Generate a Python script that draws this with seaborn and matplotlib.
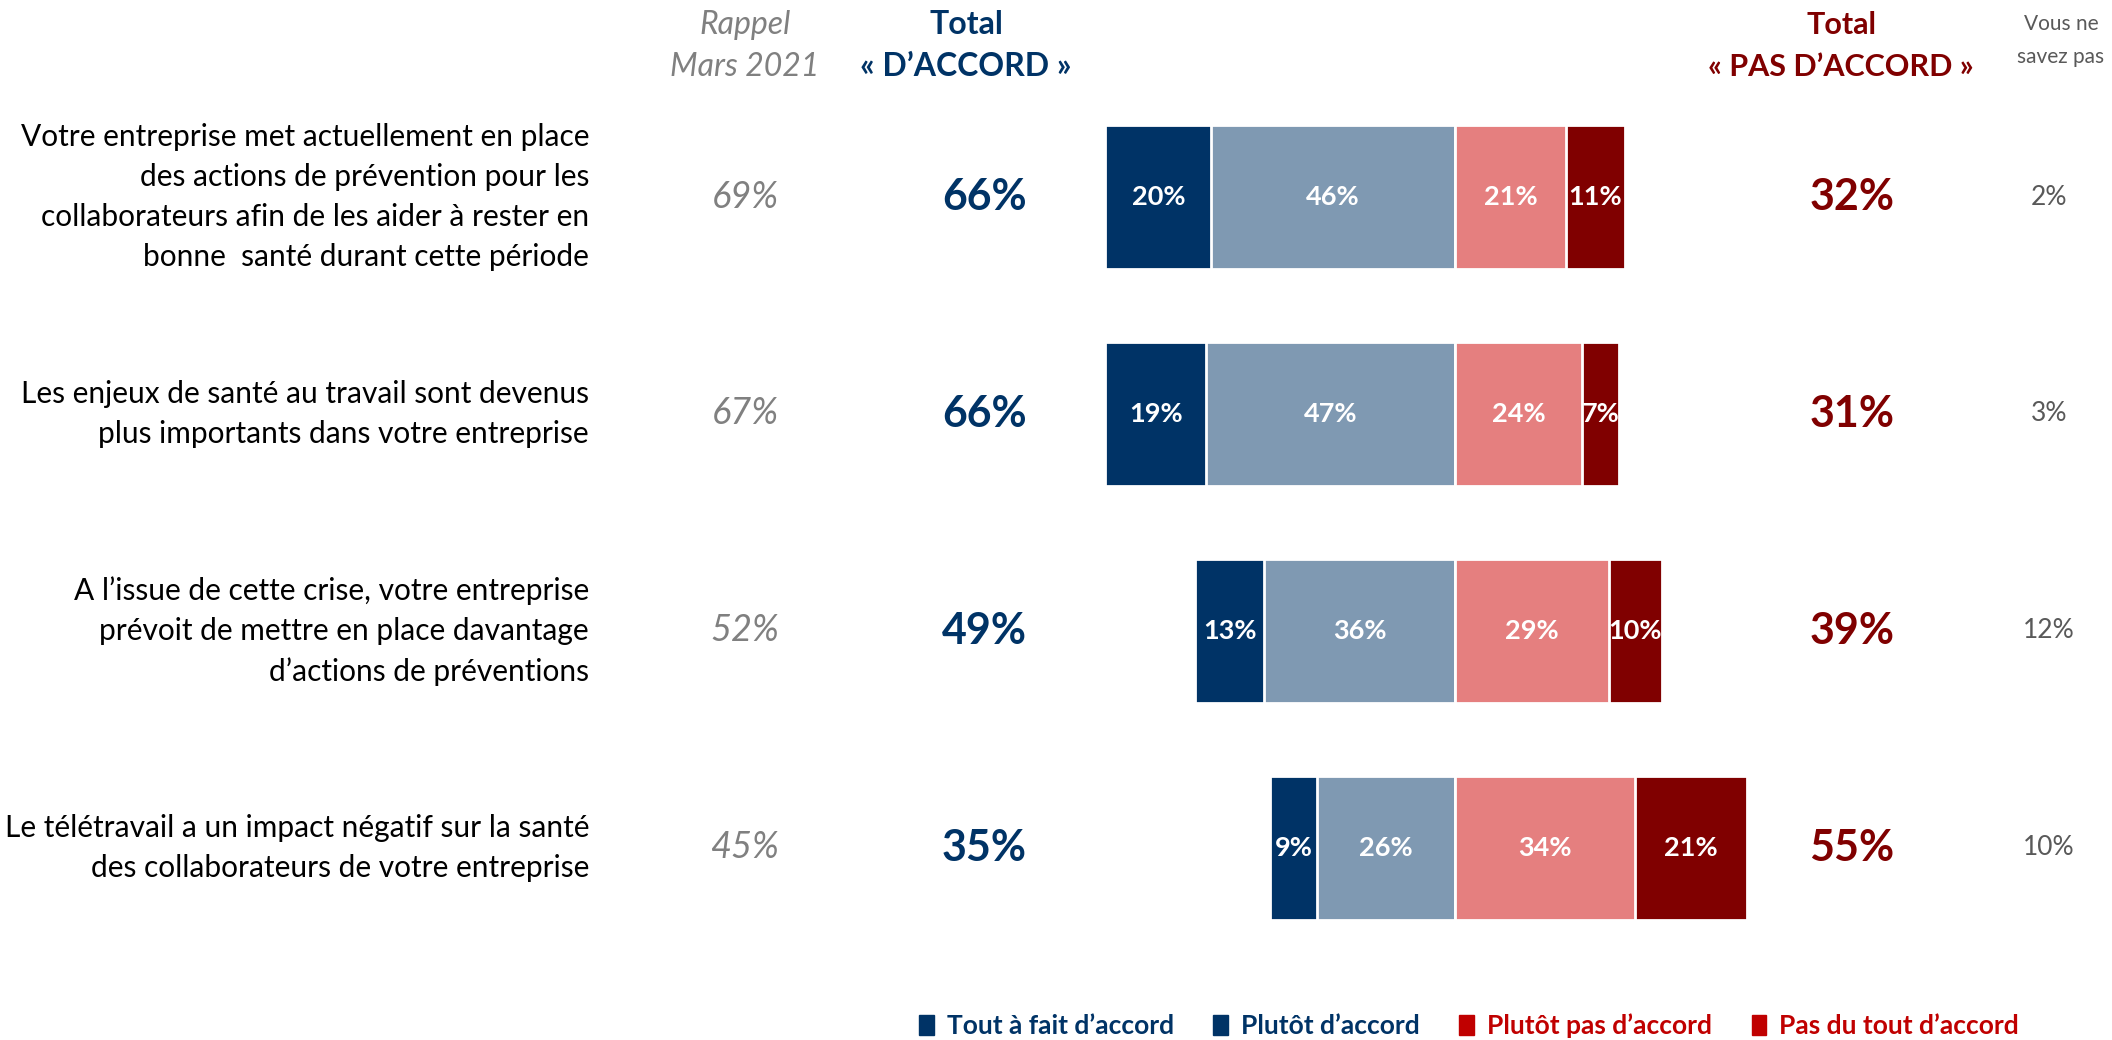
import pandas as pd
import numpy as np
from matplotlib import pyplot as plt
from matplotlib import transforms
from matplotlib.patches import Patch
import seaborn as sns

# Données
items = [
    "Votre entreprise met actuellement en place\ndes actions de prévention pour les\ncollaborateurs afin de les aider à rester en\nbonne  santé durant cette période",
    "Les enjeux de santé au travail sont devenus\nplus importants dans votre entreprise",
    "A l’issue de cette crise, votre entreprise\nprévoit de mettre en place davantage\nd’actions de préventions",
    "Le télétravail a un impact négatif sur la santé\ndes collaborateurs de votre entreprise",
]
tout_a_fait = [20, 19, 13, 9]
plutot = [46, 47, 36, 26]
plutot_pas = [21, 24, 29, 34]
pas_du_tout = [11, 7, 10, 21]
rappel_2021 = [69, 67, 52, 45]
total_accord = [66, 66, 49, 35]
total_pas = [32, 31, 39, 55]
nsp = [2, 3, 12, 10]
legend_labels = ["Tout à fait d’accord", "Plutôt d’accord", "Plutôt pas d’accord", "Pas du tout d’accord"]

NAVY = "#003366"
LIGHT = "#7F99B2"
PINK = "#E57F7F"
DARKRED = "#800000"
RED = "#C00000"
GREY = "#808080"

df = pd.DataFrame({
    "item": items,
    "tout": tout_a_fait,
    "plutot": plutot,
    "plutot_pas": plutot_pas,
    "pas_du_tout": pas_du_tout,
})
df["left_outer"] = -(df["tout"] + df["plutot"])
df["left_inner"] = -df["plutot"]
df["right_outer"] = df["plutot_pas"] + df["pas_du_tout"]
df["right_inner"] = df["plutot_pas"]

sns.set_style("white")
plt.rcParams["font.family"] = ["Lato", "DejaVu Sans"]

fig = plt.figure(figsize=(21.12, 10.40), dpi=100)
ax = fig.add_axes([0.4882, 0.0803, 0.3513, 0.8346])

# barres empilées divergentes (superposition des cumuls)
bar_kw = dict(y="item", orient="h", order=items, width=0.665, saturation=1,
              edgecolor="white", linewidth=2, ax=ax)
sns.barplot(data=df, x="left_outer", color=NAVY, **bar_kw)
sns.barplot(data=df, x="left_inner", color=LIGHT, **bar_kw)
sns.barplot(data=df, x="right_outer", color=DARKRED, **bar_kw)
sns.barplot(data=df, x="right_inner", color=PINK, **bar_kw)

ax.set_xlim(-80, 60)
ax.set_ylim(3.5, -0.5)
ax.set_xlabel("")
ax.set_ylabel("")
ax.set_xticks([])
ax.set_yticks([])
sns.despine(ax=ax, left=True, bottom=True)

# etiquettes dans les barres
lab_kw = dict(ha="center", va="center", color="white", fontweight="bold", fontsize=19.5)
for i in range(len(items)):
    ax.text(-plutot[i] - tout_a_fait[i] / 2, i, f"{tout_a_fait[i]}%", **lab_kw)
    ax.text(-plutot[i] / 2, i, f"{plutot[i]}%", **lab_kw)
    ax.text(plutot_pas[i] / 2, i, f"{plutot_pas[i]}%", **lab_kw)
    ax.text(plutot_pas[i] + pas_du_tout[i] / 2, i, f"{pas_du_tout[i]}%", **lab_kw)

# colonnes de texte
tr = transforms.blended_transform_factory(fig.transFigure, ax.transData)
for i in range(len(items)):
    ax.text(0.2789, i, items[i], transform=tr, ha="right", va="center",
            multialignment="right", fontsize=21.5, color="black", linespacing=1.52)
    ax.text(0.3527, i, f"{rappel_2021[i]}%", transform=tr, ha="center", va="center",
            fontsize=26, style="italic", color=GREY)
    ax.text(0.4660, i, f"{total_accord[i]}%", transform=tr, ha="center", va="center",
            fontsize=31, fontweight="bold", color=NAVY)
    ax.text(0.8769, i, f"{total_pas[i]}%", transform=tr, ha="center", va="center",
            fontsize=31, fontweight="bold", color=DARKRED)
    ax.text(0.9702, i, f"{nsp[i]}%", transform=tr, ha="center", va="center",
            fontsize=19, color="#595959")

# en-têtes
head_kw = dict(ha="center", va="center")
fig.text(0.3527, 0.976, "Rappel", style="italic", color=GREY, fontsize=23, **head_kw)
fig.text(0.3527, 0.936, "Mars 2021", style="italic", color=GREY, fontsize=23, **head_kw)
fig.text(0.4574, 0.976, "Total", fontweight="bold", color=NAVY, fontsize=23, **head_kw)
fig.text(0.4574, 0.936, "« D’ACCORD »", fontweight="bold", color=NAVY, fontsize=23, **head_kw)
fig.text(0.8717, 0.976, "Total", fontweight="bold", color=DARKRED, fontsize=22, **head_kw)
fig.text(0.8717, 0.936, "« PAS D’ACCORD »", fontweight="bold", color=DARKRED, fontsize=22, **head_kw)
fig.text(0.9758, 0.977, "Vous ne", color="#595959", fontsize=15, **head_kw)
fig.text(0.9758, 0.945, "savez pas", color="#595959", fontsize=15, **head_kw)

# légende
leg_colors = [NAVY, NAVY, RED, RED]
handles = [Patch(facecolor=c, edgecolor=c) for c in leg_colors]
fig.legend(handles, legend_labels, loc="center", bbox_to_anchor=(0.6956, 0.0135),
           ncol=4, frameon=False, labelcolor=leg_colors,
           prop={"weight": "bold", "size": 19},
           handlelength=0.55, handleheight=0.8, handletextpad=0.5, columnspacing=1.5)

plt.savefig("out.png", dpi=100)
